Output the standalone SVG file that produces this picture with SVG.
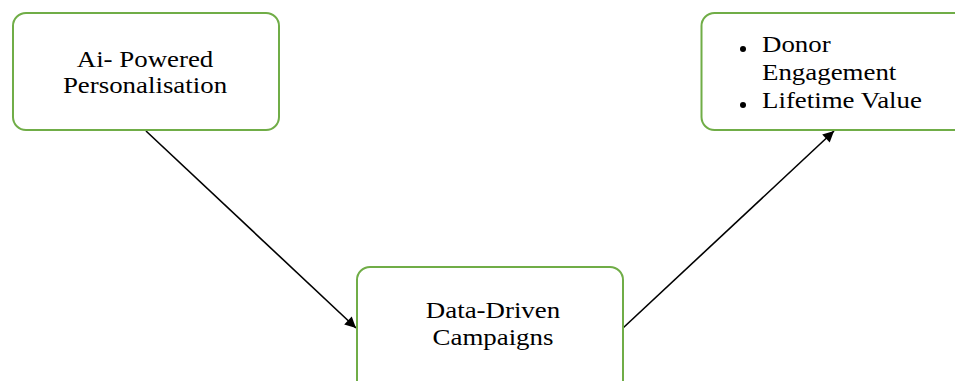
<svg xmlns="http://www.w3.org/2000/svg" width="955" height="381" viewBox="0 0 955 381">
<style>
.box{fill:#ffffff;stroke:#70AD47;stroke-width:2}
.t{font-family:"Liberation Serif","Times New Roman",serif;font-size:24px;fill:#000}
.m{text-anchor:middle}
.c{stroke:#000;stroke-width:1.6;fill:none}
</style>
<defs>
<marker id="ah" viewBox="0 0 10 10" refX="10" refY="5" markerWidth="12" markerHeight="11" markerUnits="userSpaceOnUse" orient="auto">
<path d="M0,0 L10,5 L0,10 z" fill="#000"/>
</marker>
</defs>
<rect width="955" height="381" fill="#fff"/>
<g id="connectors">
<line class="c" x1="146" y1="131" x2="356" y2="328" marker-end="url(#ah)"/>
<line class="c" x1="623" y1="328" x2="834" y2="131" marker-end="url(#ah)"/>
</g>
<g id="node-ai">
<rect class="box" x="13" y="13" width="266" height="117" rx="13"/>
<g transform="translate(145,0) scale(1.12,1)">
<text class="t m" x="0" y="67">Ai- Powered</text>
<text class="t m" x="0" y="93">Personalisation</text>
</g>
</g>
<g id="node-outcomes">
<rect class="box" x="701.5" y="13" width="280" height="117" rx="13"/>
<circle cx="743" cy="49" r="3" fill="#000"/>
<circle cx="743" cy="105" r="3" fill="#000"/>
<g transform="translate(762,0) scale(1.12,1)">
<text class="t" x="0" y="52">Donor</text>
<text class="t" x="0" y="80">Engagement</text>
<text class="t" x="0" y="108">Lifetime Value</text>
</g>
</g>
<g id="node-data">
<rect class="box" x="357" y="267" width="266" height="130" rx="13"/>
<g transform="translate(493,0) scale(1.12,1)">
<text class="t m" x="0" y="318">Data-Driven</text>
<text class="t m" x="0" y="345">Campaigns</text>
</g>
</g>
</svg>
